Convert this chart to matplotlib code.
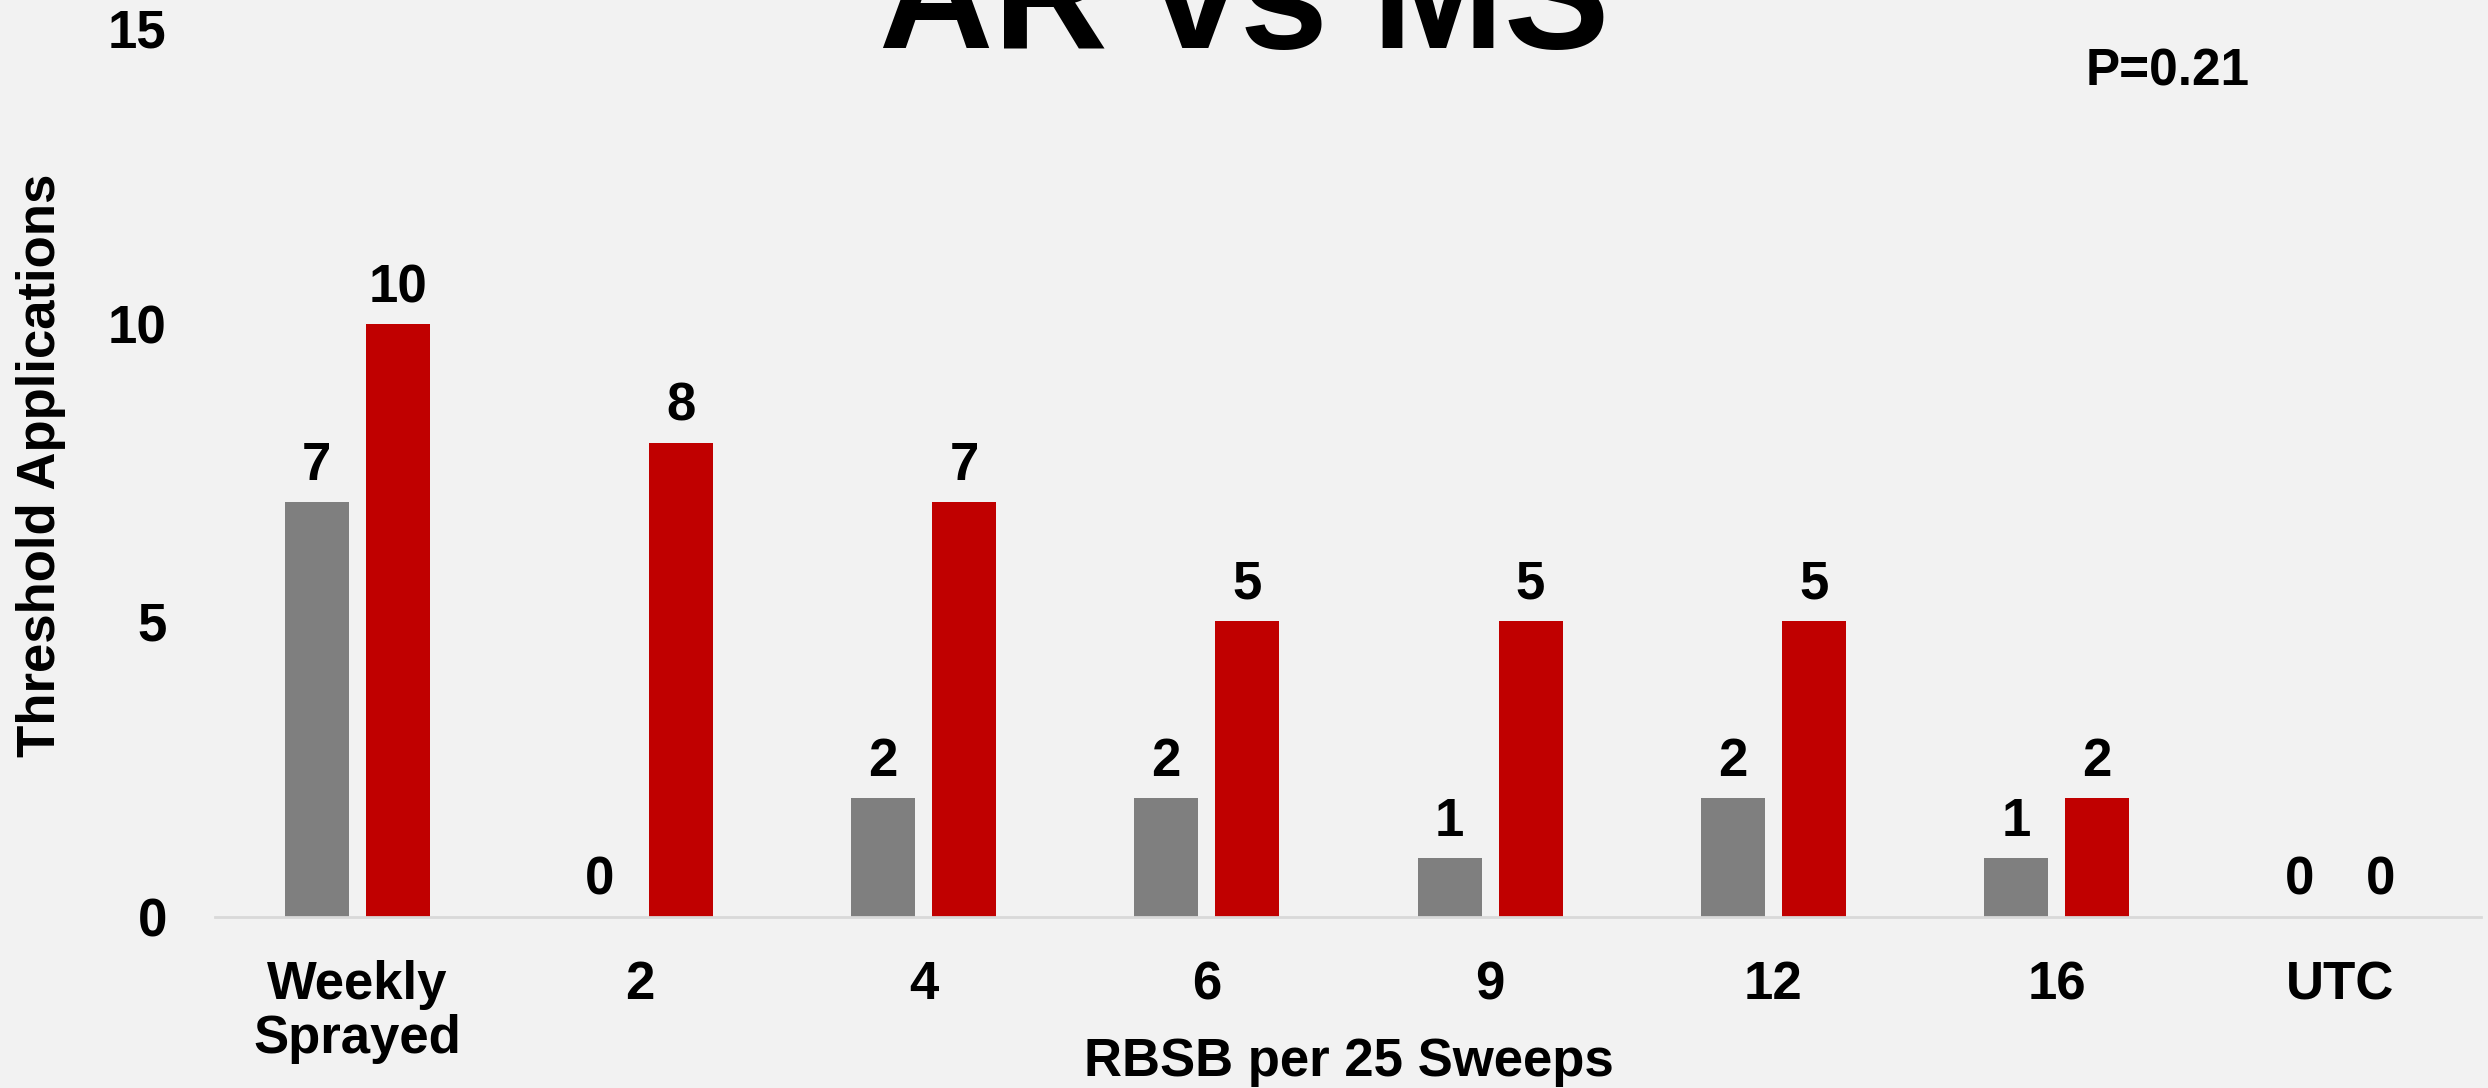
import numpy as np
import matplotlib.pyplot as plt

plt.rcParams['font.family'] = ['Liberation Sans', 'DejaVu Sans']
plt.rcParams['font.weight'] = 'bold'

# data
categories = ['Weekly\nSprayed', '2', '4', '6', '9', '12', '16', 'UTC']
ar_values = [7, 0, 2, 2, 1, 2, 1, 0]
ms_values = [10, 8, 7, 5, 5, 5, 2, 0]
title = 'AR vs MS'
p_text = 'P=0.21'

bg = '#F2F2F2'
gray = '#7F7F7F'
red = '#C00000'

fig = plt.figure(figsize=(24.88, 10.88), dpi=100, facecolor=bg)
ax = fig.add_axes([215.4 / 2488, 1 - 917 / 1088, 2266 / 2488, 889 / 1088])
ax.set_facecolor(bg)

x = np.arange(len(categories))
w = 0.226
off = 0.143
b1 = ax.bar(x - off, ar_values, w, color=gray)
b2 = ax.bar(x + off, ms_values, w, color=red)

for bars in (b1, b2):
    for r in bars:
        ax.annotate(f'{int(r.get_height())}', (r.get_x() + r.get_width() / 2, r.get_height()),
                    xytext=(0, 8), textcoords='offset points', ha='center', va='bottom',
                    fontsize=38, fontweight='bold')

ax.set_xlim(-0.5, len(categories) - 0.5)
ax.set_ylim(0, 15)
ax.set_yticks([0, 5, 10, 15])
ax.set_xticks(x)
ax.set_xticklabels(categories, fontsize=38, fontweight='bold', linespacing=1.1)
ax.tick_params(axis='x', length=0, pad=31)
ax.tick_params(axis='y', length=0, pad=35, labelsize=38)

for s in ['top', 'right', 'left']:
    ax.spines[s].set_visible(False)
ax.spines['bottom'].set_color('#D9D9D9')
ax.spines['bottom'].set_linewidth(2)

ax.set_xlabel('RBSB per 25 Sweeps', fontsize=38, fontweight='bold')
ax.xaxis.set_label_coords(0.5, -0.135)
ax.set_ylabel('Threshold Applications', fontsize=38, fontweight='bold')
ax.yaxis.set_label_coords(-0.066, 0.508)

fig.text(0.5, 1 - 48 / 1088, title, ha='center', va='baseline', fontsize=114, fontweight='bold')
fig.text(2168 / 2488, 1 - 86 / 1088, p_text, ha='center', va='baseline', fontsize=37, fontweight='bold')

fig.savefig('out.png', dpi=100, facecolor=bg)
